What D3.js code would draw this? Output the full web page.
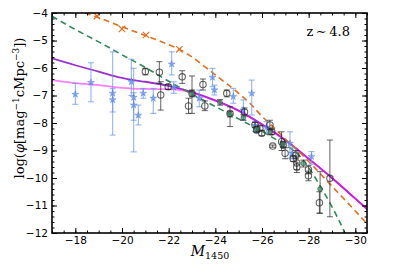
<!DOCTYPE html>
<html><head><meta charset="utf-8">
<script src="https://cdn.jsdelivr.net/npm/d3@7"></script>
<style>body{margin:0;background:#fff}svg{display:block}</style>
</head><body><svg id="c" width="399" height="266"></svg>
<script>
// ---- data ----
const xTicks = [-18, -20, -22, -24, -26, -28, -30];
const yTicks = [-4, -5, -6, -7, -8, -9, -10, -11, -12];
const redshiftLabel = "z\u2009\u223C\u20094.8";

// model curves: [M1450, log phi]
const orangeLine = [[-18.0,-3.88],[-18.5,-4.02],[-19,-4.17],[-20,-4.5],[-21,-4.82],[-22,-5.15],[-22.5,-5.34],[-23,-5.6],[-23.5,-5.92],[-24,-6.25],[-24.5,-6.58],[-25,-6.92],[-25.5,-7.3],[-26,-7.76],[-26.5,-8.16],[-27,-8.58],[-27.5,-8.98],[-28,-9.4],[-29,-10.3],[-30,-11.2],[-30.5,-11.66]];
const orangeMarks = [[-18.93,-4.11],[-20.0,-4.58],[-21.03,-4.8],[-22.46,-5.32]];
const greenLine = [[-17,-4.12],[-18,-4.6],[-19,-5.05],[-20,-5.52],[-21,-5.98],[-22,-6.48],[-23,-6.95],[-24,-7.4],[-25,-7.85],[-26,-8.3],[-26.5,-8.55],[-27,-8.8],[-27.5,-9.1],[-28,-9.62],[-28.5,-10.3],[-29,-11.05],[-29.5,-11.9],[-29.6,-12.1]];
const purpleLine = [[-17,-5.65],[-18,-5.9],[-19,-6.13],[-20,-6.36],[-20.5,-6.44],[-21,-6.5],[-22,-6.65],[-23,-6.88],[-24,-7.18],[-25,-7.55],[-26,-8.05],[-27,-8.62],[-28,-9.3],[-29,-10.0],[-30,-10.75],[-30.5,-11.13]];
const pinkLine = [[-17,-6.44],[-18,-6.55],[-19,-6.62],[-20,-6.72],[-21,-6.76],[-22,-6.77],[-22.5,-6.8],[-23,-6.9],[-24,-7.2],[-25,-7.56],[-26,-8.06],[-27,-8.63],[-28,-9.3],[-29,-10.0],[-30,-10.75],[-30.5,-11.13]];

// data points: [M1450, log phi, upper end, lower end]
const blueStars = [[-18.0,-6.96,-6.56,-7.32],[-18.67,-6.53,-5.81,-7.23],[-19.6,-6.92,-5.41,-7.6],[-19.6,-7.16,-6.75,-8.44],[-20.4,-6.5,-5.68,-7.0],[-20.5,-7.07,-6.01,-9.05],[-20.5,-7.35,-6.9,-7.9],[-20.7,-7.72,-7.35,-8.07],[-20.91,-6.92,-6.74,-7.1],[-21.34,-7.1,-6.74,-7.65],[-22.13,-5.86,-5.41,-6.25],[-22.22,-6.7,-6.5,-6.92],[-23.31,-7.1,-6.8,-7.41],[-23.88,-6.34,-6.01,-6.68],[-23.96,-6.8,-6.62,-6.98],[-24.77,-7.04,-6.74,-7.28],[-25.2,-7.53,-7.16,-7.89],[-25.56,-6.92,-6.44,-7.71],[-25.7,-8.1,-7.95,-8.3],[-26.2,-8.15,-7.95,-8.4],[-27.2,-8.74,-8.32,-9.28],[-27.3,-9.1,-8.9,-9.3],[-28.12,-9.22,-9.04,-9.5]];
const blackCircles = [[-21.0,-6.13,-6.01,-6.25],[-21.6,-6.15,-5.77,-6.56],[-21.66,-6.98,-6.5,-7.53],[-21.98,-6.68,-6.6,-6.78],[-22.58,-6.32,-6.1,-6.56],[-22.85,-7.38,-7.1,-7.65],[-23.0,-6.93,-6.29,-7.65],[-23.47,-6.6,-6.4,-6.8],[-23.55,-7.38,-7.2,-7.55],[-24.49,-6.92,-6.8,-7.05],[-24.63,-7.65,-7.41,-8.13],[-25.25,-7.6,-7.45,-7.75],[-25.7,-8.07,-7.98,-8.16],[-25.77,-8.25,-8.15,-8.35],[-25.91,-8.19,-8.1,-8.28],[-25.99,-8.37,-8.28,-8.46],[-26.34,-8.07,-7.9,-8.25],[-26.42,-8.32,-8.22,-8.42],[-26.46,-8.84,-8.8,-8.88],[-26.84,-8.68,-8.32,-9.0],[-26.91,-8.8,-8.7,-8.9],[-26.99,-9.1,-8.9,-9.3],[-27.34,-9.3,-9.2,-9.4],[-27.45,-9.16,-9.0,-9.3],[-27.49,-9.45,-9.2,-9.7],[-27.49,-9.6,-9.45,-9.8],[-27.99,-9.7,-9.55,-9.85],[-27.99,-9.92,-9.75,-10.1],[-28.46,-10.9,-10.5,-11.28],[-28.91,-10.01,-8.62,-11.41]];
const greenPoints = [[-23.0,-6.93,-6.8,-7.05],[-24.2,-7.25,-7.15,-7.35],[-24.63,-7.68,-7.58,-7.78],[-25.2,-7.8,-7.7,-7.9],[-25.77,-8.22,-8.12,-8.32],[-26.35,-8.33,-8.23,-8.43],[-26.9,-8.76,-8.66,-8.86],[-27.77,-9.47,-9.35,-9.6],[-28.49,-10.4,-9.77,-11.28]];

// ---- layout ----
const svg = d3.select("#c");
const L = 52, R = 367, T = 13, B = 233;
const x = d3.scaleLinear().domain([-17, -30.5]).range([L, R]);
const y = d3.scaleLinear().domain([-4, -12]).range([T, B]);

svg.append("defs").append("clipPath").attr("id","clip")
  .append("rect").attr("x",L).attr("y",T).attr("width",R-L).attr("height",B-T);
const plot = svg.append("g").attr("clip-path","url(#clip)");

const line = d3.line().x(d=>x(d[0])).y(d=>y(d[1])).curve(d3.curveMonotoneX);

// lines
plot.append("path").datum(purpleLine).attr("d",line).attr("fill","none")
  .attr("stroke","#9932cc").attr("stroke-width",1.8);
plot.append("path").datum(pinkLine).attr("d",line).attr("fill","none")
  .attr("stroke","#ff00ff").attr("stroke-opacity",0.5).attr("stroke-width",1.8);
plot.append("path").datum(greenLine).attr("d",line).attr("fill","none")
  .attr("stroke","#2e8b57").attr("stroke-width",1.6).attr("stroke-dasharray","6,4");
plot.append("path").datum(orangeLine).attr("d",line).attr("fill","none")
  .attr("stroke","#e0701e").attr("stroke-width",1.6).attr("stroke-dasharray","6,4");

// orange x markers
const xm = plot.append("g").attr("stroke","#e0701e").attr("stroke-width",1.2);
orangeMarks.forEach(d=>{
  const cx=x(d[0]), cy=y(d[1]), s=3.2;
  xm.append("line").attr("x1",cx-s).attr("y1",cy-s).attr("x2",cx+s).attr("y2",cy+s);
  xm.append("line").attr("x1",cx-s).attr("y1",cy+s).attr("x2",cx+s).attr("y2",cy-s);
});

function errBars(g, data, color, opac, w){
  const eg = g.append("g").attr("stroke",color).attr("stroke-opacity",opac).attr("stroke-width",w);
  data.forEach(d=>{
    const cx=x(d[0]);
    eg.append("line").attr("x1",cx).attr("x2",cx).attr("y1",y(d[2])).attr("y2",y(d[3]));
    [d[2],d[3]].forEach(v=>eg.append("line").attr("x1",cx-3).attr("x2",cx+3).attr("y1",y(v)).attr("y2",y(v)));
  });
}

// blue stars
errBars(plot, blueStars, "#6495ed", 0.7, 1.1);
const star = d3.symbol().type(d3.symbolStar).size(15);
plot.append("g").selectAll("path").data(blueStars).join("path")
  .attr("d",star).attr("transform",d=>`translate(${x(d[0])},${y(d[1])})`)
  .attr("fill","#6495ed").attr("fill-opacity",0.75).attr("stroke","#4169e1").attr("stroke-opacity",0.6).attr("stroke-width",0.6);

// black circles
errBars(plot, blackCircles, "#222", 0.7, 1.0);
plot.append("g").selectAll("circle").data(blackCircles).join("circle")
  .attr("cx",d=>x(d[0])).attr("cy",d=>y(d[1])).attr("r",3.2)
  .attr("fill","none").attr("stroke","#222").attr("stroke-opacity",0.7).attr("stroke-width",1.1);

// green points
errBars(plot, greenPoints, "#222", 0.7, 1.0);
plot.append("g").selectAll("circle").data(greenPoints).join("circle")
  .attr("cx",d=>x(d[0])).attr("cy",d=>y(d[1])).attr("r",2.4)
  .attr("fill","#3a9a66").attr("fill-opacity",0.7).attr("stroke","#333").attr("stroke-opacity",0.7).attr("stroke-width",0.8);

// ---- axes ----
const minorX = d3.range(-17, -30.51, -0.5);
const minorY = d3.range(-4, -12.01, -0.2);
const fontT = "DejaVu Sans, sans-serif";
function styleAxis(g){
  g.select(".domain").remove();
  g.selectAll("line").attr("stroke","#000").attr("stroke-width",1);
  g.selectAll("text").attr("font-family",fontT).attr("font-size",10.5).attr("fill","#000");
}
const fmt = d3.format("d");
svg.append("g").attr("transform",`translate(0,${B})`)
  .call(d3.axisBottom(x).tickValues(xTicks).tickSizeInner(-5).tickSizeOuter(0).tickPadding(4).tickFormat(fmt)).call(styleAxis);
svg.append("g").attr("transform",`translate(0,${B})`)
  .call(d3.axisBottom(x).tickValues(minorX).tickSizeInner(-2.5).tickSizeOuter(0).tickFormat("")).call(styleAxis);
svg.append("g").attr("transform",`translate(0,${T})`)
  .call(d3.axisTop(x).tickValues(xTicks).tickSizeInner(-5).tickSizeOuter(0).tickFormat("")).call(styleAxis);
svg.append("g").attr("transform",`translate(0,${T})`)
  .call(d3.axisTop(x).tickValues(minorX).tickSizeInner(-2.5).tickSizeOuter(0).tickFormat("")).call(styleAxis);
svg.append("g").attr("transform",`translate(${L},0)`)
  .call(d3.axisLeft(y).tickValues(yTicks).tickSizeInner(-5).tickSizeOuter(0).tickPadding(4).tickFormat(fmt)).call(styleAxis);
svg.append("g").attr("transform",`translate(${L},0)`)
  .call(d3.axisLeft(y).tickValues(minorY).tickSizeInner(-2.5).tickSizeOuter(0).tickFormat("")).call(styleAxis);
svg.append("g").attr("transform",`translate(${R},0)`)
  .call(d3.axisRight(y).tickValues(yTicks).tickSizeInner(-5).tickSizeOuter(0).tickFormat("")).call(styleAxis);
svg.append("g").attr("transform",`translate(${R},0)`)
  .call(d3.axisRight(y).tickValues(minorY).tickSizeInner(-2.5).tickSizeOuter(0).tickFormat("")).call(styleAxis);

svg.append("rect").attr("x",L).attr("y",T).attr("width",R-L).attr("height",B-T)
  .attr("fill","none").attr("stroke","#000").attr("stroke-width",1.6);

// ---- labels ----
const serif = "DejaVu Serif, serif";
svg.append("text").attr("x",350).attr("y",36).attr("text-anchor","end")
  .attr("font-family",serif).attr("font-size",13).text(redshiftLabel);

const xl = svg.append("text").attr("x",210).attr("y",256).attr("text-anchor","middle")
  .attr("font-family",serif).attr("font-size",14);
xl.append("tspan").attr("font-style","italic").text("M");
xl.append("tspan").attr("font-size",9.5).attr("dy",3).text("1450");

const yl = svg.append("text").attr("transform","translate(24,108) rotate(-90)").attr("text-anchor","middle")
  .attr("font-family",serif).attr("font-size",13);
yl.append("tspan").text("log(");
yl.append("tspan").attr("font-style","italic").text("\u03C6");
yl.append("tspan").text("[mag");
yl.append("tspan").attr("font-size",9).attr("dy",-5).text("\u22121");
yl.append("tspan").attr("dy",5).text("cMpc");
yl.append("tspan").attr("font-size",9).attr("dy",-5).text("\u22123");
yl.append("tspan").attr("dy",5).text("])");
</script></body></html>
